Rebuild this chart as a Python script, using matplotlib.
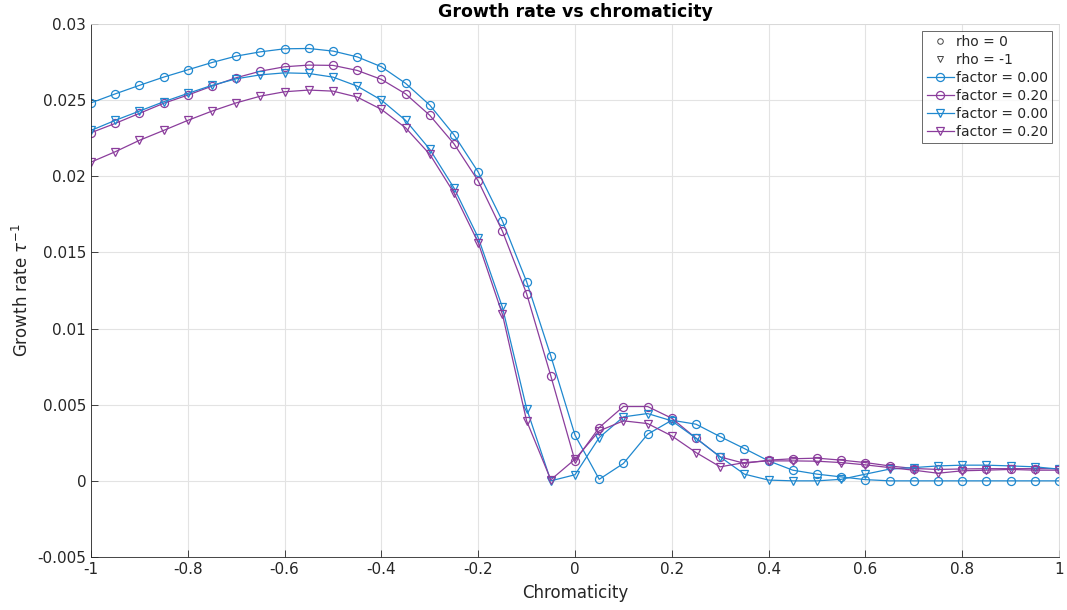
import numpy as np
import matplotlib
matplotlib.use("Agg")
import matplotlib.pyplot as plt
from matplotlib.lines import Line2D

# chromaticity scan, -1 to 1 in steps of 0.05
chroma = np.round(np.arange(-1.0, 1.0001, 0.05), 2)

# rho = 0, factor = 0.00
rate_r0_f0 = [0.02482, 0.02541, 0.02597, 0.02651, 0.02699, 0.02747, 0.02789, 0.02817,
              0.02837, 0.02839, 0.02822, 0.02784, 0.02719, 0.02610, 0.02467, 0.02272,
              0.02028, 0.01706, 0.01308, 0.00820, 0.00300, 0.00010, 0.00114, 0.00306,
              0.00398, 0.00372, 0.00290, 0.00212, 0.00131, 0.00070, 0.00044, 0.00026,
              0.00008, 0.00000, 0.00000, 0.00000, 0.00000, 0.00000, 0.00000, 0.00000,
              0.00000]
# rho = 0, factor = 0.20
rate_r0_f2 = [0.02286, 0.02347, 0.02413, 0.02479, 0.02533, 0.02592, 0.02647, 0.02690,
              0.02719, 0.02730, 0.02728, 0.02695, 0.02636, 0.02541, 0.02400, 0.02213,
              0.01969, 0.01640, 0.01229, 0.00689, 0.00131, 0.00350, 0.00488, 0.00488,
              0.00411, 0.00280, 0.00157, 0.00115, 0.00136, 0.00145, 0.00149, 0.00136,
              0.00120, 0.00098, 0.00081, 0.00075, 0.00078, 0.00080, 0.00080, 0.00080,
              0.00080]
# rho = -1, factor = 0.00
rate_r1_f0 = [0.02301, 0.02367, 0.02428, 0.02489, 0.02544, 0.02597, 0.02640, 0.02666,
              0.02679, 0.02675, 0.02651, 0.02592, 0.02500, 0.02367, 0.02177, 0.01923,
              0.01597, 0.01140, 0.00475, 0.00000, 0.00040, 0.00284, 0.00420, 0.00442,
              0.00394, 0.00280, 0.00157, 0.00044, 0.00005, 0.00000, 0.00000, 0.00010,
              0.00044, 0.00077, 0.00087, 0.00098, 0.00103, 0.00103, 0.00098, 0.00092,
              0.00077]
# rho = -1, factor = 0.20
rate_r1_f2 = [0.02093, 0.02161, 0.02236, 0.02301, 0.02367, 0.02428, 0.02482, 0.02526,
              0.02555, 0.02566, 0.02559, 0.02520, 0.02439, 0.02318, 0.02144, 0.01890,
              0.01564, 0.01094, 0.00394, 0.00007, 0.00142, 0.00328, 0.00394, 0.00376,
              0.00295, 0.00186, 0.00092, 0.00120, 0.00131, 0.00131, 0.00129, 0.00120,
              0.00105, 0.00087, 0.00070, 0.00050, 0.00066, 0.00070, 0.00075, 0.00070,
              0.00070]

blue = "#1f88cf"
purple = "#8b3d9c"
ink = "#262626"

fig = plt.figure(figsize=(10.67, 6.10), dpi=100)
ax = fig.add_axes([0.0853, 0.0869, 0.9072, 0.8738])

style = dict(linewidth=0.9, markersize=5.8, markerfacecolor="none", markeredgewidth=0.9)
ax.plot(chroma, rate_r0_f0, "-o", color=blue, **style)
ax.plot(chroma, rate_r0_f2, "-o", color=purple, **style)
ax.plot(chroma, rate_r1_f0, "-v", color=blue, **style)
ax.plot(chroma, rate_r1_f2, "-v", color=purple, **style)

ax.set_xlim(-1, 1)
ax.set_ylim(-0.005, 0.03)
ax.set_xticks(np.arange(-1, 1.01, 0.2))
ax.set_xticklabels(["-1", "-0.8", "-0.6", "-0.4", "-0.2", "0", "0.2", "0.4", "0.6", "0.8", "1"])
ax.set_yticks(np.arange(-0.005, 0.0301, 0.005))
ax.set_yticklabels(["-0.005", "0", "0.005", "0.01", "0.015", "0.02", "0.025", "0.03"])
ax.tick_params(direction="in", length=5, width=0.6, colors=ink, labelsize=11,
               top=False, right=False)
ax.grid(True, color="#e3e3e3", linewidth=0.8)
ax.set_axisbelow(True)
for side in ["left", "bottom"]:
    ax.spines[side].set_color(ink)
    ax.spines[side].set_linewidth(0.6)
for side in ["top", "right"]:
    ax.spines[side].set_color("#d8d8d8")
    ax.spines[side].set_linewidth(0.6)

ax.set_xlabel("Chromaticity", fontsize=12, color=ink, labelpad=5)
ax.set_ylabel(r"Growth rate $\tau^{-1}$", fontsize=12, color=ink, labelpad=4)
ax.set_title("Growth rate vs chromaticity", fontsize=12.5, fontweight="bold", color="black", pad=5)

handles = [
    Line2D([], [], linestyle="none", marker="o", color="#444444", markerfacecolor="none",
           markersize=4, markeredgewidth=0.7),
    Line2D([], [], linestyle="none", marker="v", color="#444444", markerfacecolor="none",
           markersize=4, markeredgewidth=0.7),
    Line2D([], [], marker="o", color=blue, **style),
    Line2D([], [], marker="o", color=purple, **style),
    Line2D([], [], marker="v", color=blue, **style),
    Line2D([], [], marker="v", color=purple, **style),
]
labels = ["rho = 0", "rho = -1", "factor = 0.00", "factor = 0.20", "factor = 0.00", "factor = 0.20"]
leg = ax.legend(handles, labels, loc="upper right", bbox_to_anchor=(0.9955, 0.992),
                fontsize=10, frameon=True, fancybox=False, handlelength=2.0,
                handletextpad=0.1, borderpad=0.3, labelspacing=0.28, borderaxespad=0.2)
leg.get_frame().set_edgecolor(ink)
leg.get_frame().set_linewidth(0.6)
for t in leg.get_texts():
    t.set_color(ink)

fig.savefig("out.png", dpi=100)
plt.close(fig)
